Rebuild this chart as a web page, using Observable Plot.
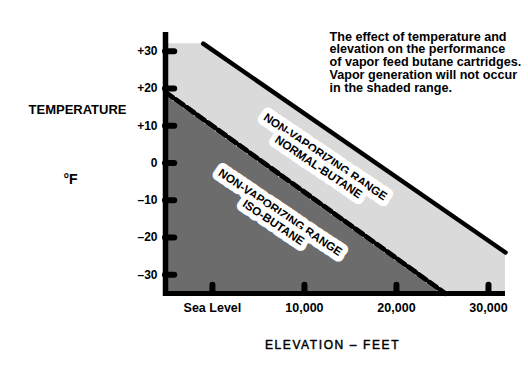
<!DOCTYPE html>
<html>
<head>
<meta charset="utf-8">
<script src="https://cdn.jsdelivr.net/npm/d3@7"></script>
<script src="https://cdn.jsdelivr.net/npm/@observablehq/plot@0.6"></script>
<style>
  html, body { margin: 0; padding: 0; background: #fff; }
  #chart { width: 528px; height: 385px; }
</style>
</head>
<body>
<div id="chart"></div>
<script>
// ---- data ----
const normalElev = [-1000, 31850];      // feet
const normalTemp = [32, -24];           // °F  (normal-butane boundary, solid)
const isoElev = [-5100, 25300];
const isoTemp = [19, -35];              // iso-butane boundary, dashed
const lightElev = [-5100, -1000, 31850];
const lightTemp = [32, 32, -24];        // top of lightly shaded range
const yTicks = [30, 20, 10, 0, -10, -20, -30];
const yTickLabels = ["+30", "+20", "+10", "0", "\u201310", "\u201320", "\u201330"];
const xTicks = [0, 10000, 20000, 30000];
const xTickLabels = ["Sea Level", "10,000", "20,000", "30,000"];
const xDomain = [-5100, 31850];
const yDomain = [-35, 35];
const labelNormal = {e: 11900, t: 0.3, text: "NON-VAPORIZING RANGE\nNORMAL-BUTANE"};
const labelIso = {e: 7000, t: -14.6, text: "NON-VAPORIZING RANGE\nISO-BUTANE"};
const xTitle = "ELEVATION \u2013 FEET";
const noteText = "The effect of temperature and\nelevation on the performance\nof vapor feed butane cartridges.\nVapor generation will not occur\nin the shaded range.";

const normal = normalElev.map((e, i) => ({e, t: normalTemp[i]}));
const iso = isoElev.map((e, i) => ({e, t: isoTemp[i]}));
const light = lightElev.map((e, i) => ({e, t: lightTemp[i]}));

const font = "'Liberation Sans', Arial, Helvetica, sans-serif";

const chart = Plot.plot({
  width: 528,
  height: 385,
  marginLeft: 165,
  marginRight: 23,
  marginTop: 32,
  marginBottom: 92,
  x: {domain: xDomain},
  y: {domain: yDomain},
  style: {fontFamily: font, background: "#fff", color: "#000", overflow: "visible"},
  marks: [
    Plot.areaY(light, {x: "e", y1: yDomain[0], y2: "t", fill: "#dadada"}),
    Plot.areaY(iso, {x: "e", y1: yDomain[0], y2: "t", fill: "#6c6c6c"}),
    Plot.line(normal, {x: "e", y: "t", stroke: "#000", strokeWidth: 4.5, strokeLinecap: "round"}),
    Plot.line(iso, {x: "e", y: "t", stroke: "#fff", strokeWidth: 5}),
    Plot.line(iso, {x: "e", y: "t", stroke: "#000", strokeWidth: 5, strokeDasharray: "9,4"}),
    // heavy axis bars
    Plot.ruleX([xDomain[0]], {y1: yDomain[0] - 0.8, y2: yDomain[1], stroke: "#000", strokeWidth: 5.5}),
    Plot.ruleY([yDomain[0]], {x1: xDomain[0], x2: xDomain[1], stroke: "#000", strokeWidth: 5}),
    // stubby inward ticks
    Plot.ruleY(yTicks, {x1: xDomain[0], x2: xDomain[0] + 1000, stroke: "#000", strokeWidth: 6, strokeLinecap: "round"}),
    Plot.ruleX(xTicks, {y1: yDomain[0], y2: yDomain[0] + 2.2, stroke: "#000", strokeWidth: 6, strokeLinecap: "round"}),
    Plot.axisY({
      ticks: yTicks,
      tickFormat: (d) => yTickLabels[yTicks.indexOf(d)],
      tickSize: 0, tickPadding: 8, fontSize: 12, fontWeight: "bold", label: null
    }),
    Plot.axisX({
      ticks: xTicks,
      tickFormat: (d) => xTickLabels[xTicks.indexOf(d)],
      tickSize: 0, tickPadding: 10, fontSize: 12.5, fontWeight: "bold", label: null
    }),
    // range labels
    Plot.text([labelNormal, labelIso], {
      x: "e", y: "t", text: "text", rotate: 34, fontSize: 11.6, fontWeight: "bold",
      lineHeight: 1.05, fill: "#000", stroke: "#fff", strokeWidth: 11, strokeLinejoin: "round"
    }),
    // outer titles
    Plot.text(["TEMPERATURE"], {frameAnchor: "left", dx: -88, dy: -53, fontSize: 13, fontWeight: "bold", textAnchor: "middle"}),
    Plot.text(["\u00b0F"], {frameAnchor: "left", dx: -95, dy: 17, fontSize: 14, fontWeight: "bold", textAnchor: "middle"}),
    Plot.text([xTitle], {frameAnchor: "bottom", dx: -3, dy: 55, fontSize: 12, fontWeight: "normal", textAnchor: "middle", stroke: "#000", strokeWidth: 0.45, fill: "#000"}),
    Plot.text([noteText], {frameAnchor: "top-left", dx: 164, dy: -1, fontSize: 12.6, fontWeight: "bold", textAnchor: "start", lineAnchor: "top", lineHeight: 1.02})
  ]
});
// widen the letter spacing of the x-axis title, as in the reference
d3.select(chart).selectAll("text")
  .filter(function () { return this.textContent === xTitle; })
  .attr("letter-spacing", "1.6px");
document.getElementById("chart").appendChild(chart);
</script>
</body>
</html>
